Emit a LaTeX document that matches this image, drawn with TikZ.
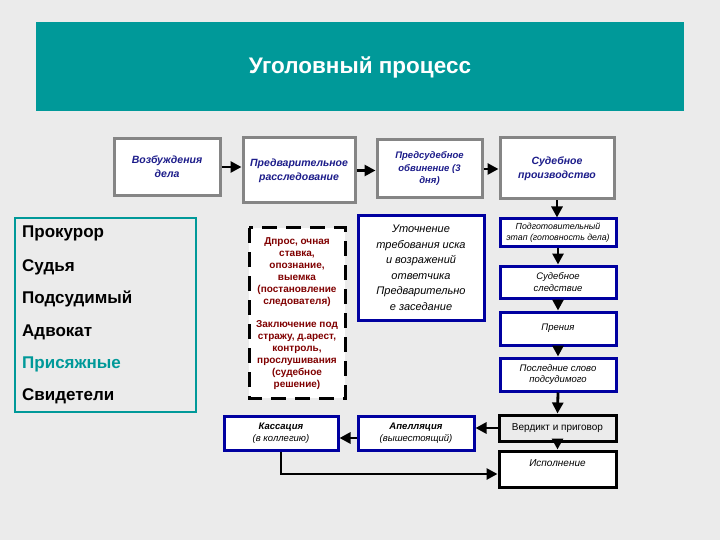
\documentclass[tikz,border=0pt]{standalone}
\usepackage{fontspec}
\setmainfont{Liberation Sans}
\usetikzlibrary{arrows.meta,calc}
\definecolor{bgc}{HTML}{EBEBEB}
\definecolor{tealc}{HTML}{009999}
\definecolor{grayb}{HTML}{858585}
\definecolor{navyt}{HTML}{1C1C8A}
\definecolor{blueb}{HTML}{0000A0}
\definecolor{redt}{HTML}{800000}
\begin{document}
\begin{tikzpicture}[x=1pt,y=-1pt,
  topbox/.style={draw=grayb,line width=3pt,fill=white,align=center,inner sep=2pt,
    text=navyt,font=\fontsize{10.5}{14}\selectfont\bfseries\itshape},
  bluebox/.style={draw=blueb,line width=3pt,fill=white,align=center,inner sep=2pt,
    font=\fontsize{9.5}{11.5}\selectfont\itshape},
  blackbox/.style={draw=black,line width=3pt,align=center,inner sep=2pt,
    font=\fontsize{10}{12}\selectfont},
  person/.style={anchor=west,font=\fontsize{17}{19}\selectfont\bfseries,inner sep=0pt},
  redtext/.style={text=redt,align=center,font=\fontsize{10}{12}\selectfont\bfseries},
  arr/.style={line width=2.8pt,-{Triangle[length=11pt,width=11pt]}}]
\useasboundingbox (0,0) rectangle (720,540);
\fill[bgc] (0,0) rectangle (720,540);
% title bar
\fill[tealc] (36,22) rectangle (684,111);
\node[text=white,font=\fontsize{22.5}{26}\selectfont\bfseries] (title) at (360,67) {Уголовный процесс};
% top row
\node[topbox,minimum width=106pt,minimum height=57pt] (b1) at (167,167) {Возбуждения\\дела};
\node[topbox,minimum width=112pt,minimum height=65pt] (b2) at (299,170.5) {Предварительное\\расследование};
\node[topbox,minimum width=105pt,minimum height=58pt,font=\fontsize{9.5}{12.5}\selectfont\bfseries\itshape] (b3) at (429.5,169) {Предсудебное\\обвинение (3\\дня)};
\node[topbox,minimum width=114pt,minimum height=61pt] (b4) at (557,168.5) {Судебное\\производство};
\draw[arr] (b1.east) -- (b1.east -| b2.west);
\draw[arr] (b2.east) -- (b2.east -| b3.west);
\draw[arr] (b3.east) -- (b3.east -| b4.west);
% left panel
\draw[tealc,line width=2.5pt,fill=bgc] (15,218) rectangle (196,412);
\node[person] (p1) at (22,233) {Прокурор};
\node[person] (p2) at (22,267) {Судья};
\node[person] (p3) at (22,299) {Подсудимый};
\node[person] (p4) at (22,332) {Адвокат};
\node[person,text=tealc] (p5) at (22,364) {Присяжные};
\node[person] (p6) at (22,396) {Свидетели};
% dashed box
\draw[black,line width=3pt,fill=white,dash pattern=on 15pt off 9pt] (249,228) rectangle (345,398);
\node[redtext] (d1) at (297,272) {Дпрос, очная\\ставка,\\опознание,\\выемка\\(постановление\\следователя)};
\node[redtext] (d2) at (297,355) {Заключение под\\стражу, д.арест,\\контроль,\\прослушивания\\(судебное\\решение)};
% blue big box
\node[bluebox,minimum width=126pt,minimum height=104pt,font=\fontsize{11}{15.5}\selectfont\itshape] (ut) at (421,268) {Уточнение\\требования иска\\и возражений\\ответчика\\Предварительно\\е заседание};
% right column
\node[bluebox,minimum width=116pt,minimum height=27pt,font=\fontsize{8.8}{11}\selectfont\itshape] (r1) at (558,232.5) {Подготовительный\\этап (готовность дела)};
\node[bluebox,minimum width=116pt,minimum height=32pt] (r2) at (558,282) {Судебное\\следствие};
\node[bluebox,minimum width=116pt,minimum height=33pt] (r3) at (558,328.5) {Прения};
\node[bluebox,minimum width=116pt,minimum height=33pt] (r4) at (558,374.5) {Последние слово\\подсудимого};
\draw[arr] (b4.south) -- (b4.south |- r1.north);
\draw[arr] (r1.south) -- (r2.north);
\draw[arr] (r2.south) -- (r3.north);
\draw[arr] (r3.south) -- (r4.north);
% bottom
\node[blackbox,fill=bgc,minimum width=117pt,minimum height=26pt] (vp) at (557.5,428) {Вердикт и приговор};
\node[blackbox,fill=white,minimum width=117pt,minimum height=36pt] (isp) at (557.5,469) {};
\node[font=\fontsize{10}{12}\selectfont\itshape] (ispt) at (557.5,463) {Исполнение};
\node[bluebox,minimum width=116pt,minimum height=34pt] (ap) at (416,433) {\textbf{Апелляция}\\(вышестоящий)};
\node[bluebox,minimum width=114pt,minimum height=34pt] (ks) at (281,433) {\textbf{Кассация}\\(в коллегию)};
\draw[arr] (r4.south) -- (vp.north);
\draw[arr] (vp.west) -- (vp.west -| ap.east);
\draw[arr] ([yshift=-5pt]ap.west) -- ([yshift=-5pt]ap.west -| ks.east);
\draw[arr] (vp.south) -- (isp.north);
\draw[arr] (ks.south) |- ([yshift=-5pt]isp.west);
\end{tikzpicture}
\end{document}
